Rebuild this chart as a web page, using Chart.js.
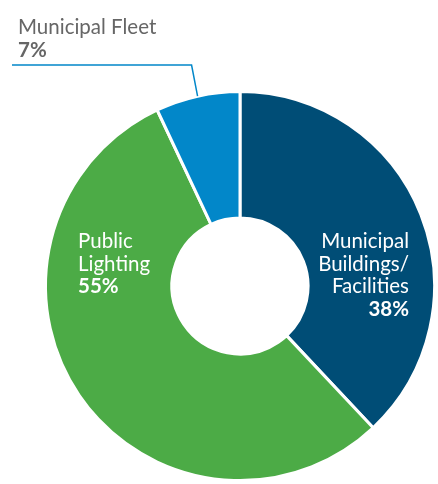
<!DOCTYPE html>
<html>
<head>
<meta charset="utf-8">
<script src="https://cdn.jsdelivr.net/npm/chart.js@4.4.1/dist/chart.umd.min.js"></script>
<style>
  html, body { margin: 0; padding: 0; background: #fff; }
  #wrap { width: 438px; height: 484px; }
</style>
</head>
<body>
<div id="wrap"><canvas id="pie-chart" width="438" height="484"></canvas></div>
<script>
// Chart data
const categories = ['Municipal Buildings/Facilities', 'Public Lighting', 'Municipal Fleet'];
const shares = [38, 55, 7];
const labelLines = [['Municipal', 'Buildings/', 'Facilities'], ['Public', 'Lighting'], ['Municipal Fleet']];
const sliceColors = ['#004d76', '#4cab46', '#0287c9'];

const FONT = 'Lato, "Open Sans", sans-serif';

// draws the slice labels + the leader line for the small slice
const sliceLabels = {
  id: 'sliceLabels',
  afterDraw(chart) {
    const c = chart.ctx;
    const arcs = chart.getDatasetMeta(0).data;
    const cx = arcs[0].x, cy = arcs[0].y;
    const lh = 22.5;

    function block(lines, pct, x, y, align, color) {
      c.save();
      c.textAlign = align;
      c.textBaseline = 'alphabetic';
      c.fillStyle = color;
      c.font = '20.5px ' + FONT;
      lines.forEach((t, i) => c.fillText(t, x, y + i * lh));
      c.font = 'bold 20.5px ' + FONT;
      c.fillText(pct + '%', x, y + lines.length * lh);
      c.restore();
    }

    // big slices: white text inside
    block(labelLines[0], shares[0], cx + 169, cy - 38, 'right', '#fff');
    block(labelLines[1], shares[1], cx - 162, cy - 38, 'left', '#fff');

    // small slice: leader line to outer edge middle
    const a = arcs[2];
    const mid = (a.startAngle + a.endAngle) / 2;
    const px = cx + Math.cos(mid) * a.outerRadius;
    const py = cy + Math.sin(mid) * a.outerRadius;
    c.save();
    c.strokeStyle = sliceColors[2];
    c.lineWidth = 1.5;
    c.beginPath();
    c.moveTo(px, py);
    c.lineTo(px - 6, 65);
    c.lineTo(12, 65);
    c.stroke();
    c.restore();
    block(labelLines[2], shares[2], 18, 34, 'left', '#666');
  }
};

const ctx = document.getElementById('pie-chart').getContext('2d');

const pieChart = new Chart(ctx, {
  type: 'doughnut',
  data: {
    labels: categories,
    datasets: [{
      data: shares,
      backgroundColor: sliceColors,
      borderColor: '#fff',
      borderWidth: 3
    }]
  },
  options: {
    responsive: false,
    devicePixelRatio: 1,
    cutout: '35%',
    animation: { duration: 0 },
    layout: {
      padding: { top: 90, bottom: 2, left: 44, right: 2 }
    },
    plugins: {
      legend: { display: false },
      tooltip: { enabled: false }
    }
  },
  plugins: [sliceLabels]
});
</script>
</body>
</html>
